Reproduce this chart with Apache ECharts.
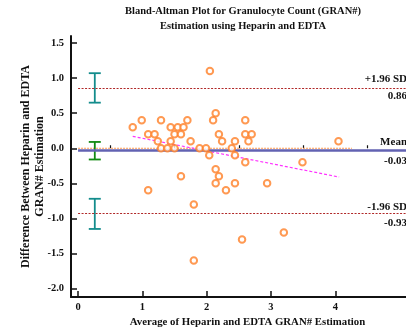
<!DOCTYPE html>
<html><head><meta charset="utf-8">
<script src="https://cdn.jsdelivr.net/npm/echarts@6/dist/echarts.min.js"></script>
<style>html,body{margin:0;padding:0;background:#fff}#c{width:406px;height:334px}</style>
</head><body><div id="c"></div>
<script>
// ---- data ----
const avgValues = [2.05,2.14,0.85,0.99,1.29,1.70,2.10,2.60,1.44,1.55,1.64,1.09,1.19,1.50,1.60,2.19,2.60,2.70,1.24,1.44,1.75,2.24,2.44,2.65,1.29,1.39,1.50,1.89,1.99,2.39,2.04,2.44,2.60,2.14,1.60,2.19,2.14,2.44,2.94,1.09,2.30,1.80,2.55,1.80,4.05,3.49,3.20];
const diffValues = [1.1,0.5,0.3,0.4,0.4,0.4,0.4,0.4,0.3,0.3,0.3,0.2,0.2,0.2,0.2,0.2,0.2,0.2,0.1,0.1,0.1,0.1,0.1,0.1,0,0,0,0,0,0,-0.1,-0.1,-0.2,-0.3,-0.4,-0.4,-0.5,-0.5,-0.5,-0.6,-0.6,-0.8,-1.3,-1.6,0.1,-0.2,-1.2];
const meanDiff = -0.03;
const upperLoA = 0.86;
const lowerLoA = -0.93;
const yTicks = [-2,-1.5,-1,-0.5,0,0.5,1,1.5];
const yTickLabels = ['-2.0','-1.5','-1.0','-0.5','0.0','0.5','1.0','1.5'];
const xTicks = [0,1,2,3,4];
const xMinorTicks = [0.5,1.5,2.5,3.5,4.5];
const regX = [0.85, 4.06];
const regY = [0.17, -0.41];
const zeroLineX = [0, 4.26];
const refLineX = [0, 5.1];
const ciX = [0.26, 0.26, 0.26];
const ciLow = [0.65, -0.16, -1.15];
const ciHigh = [1.07, 0.09, -0.72];
const titleLines = ['Bland-Altman Plot for Granulocyte Count (GRAN#)', 'Estimation using Heparin and EDTA'];
const xName = 'Average of Heparin and EDTA GRAN# Estimation';
const yName = 'Difference Between Heparin and EDTA\nGRAN# Estimation';

// ---- chart ----
const FONT = '"Liberation Serif", "Times New Roman", serif';
const chart = echarts.init(document.getElementById('c'), null, {renderer: 'canvas'});
const ciColors = ['#138c8c', '#118a11', '#138c8c'];

function refSeries(y, color, type, width, topText, bottomText, distTop, distBottom) {
  const lbl = (text, pos, d) => ({
    show: true, position: pos, formatter: text, distance: d,
    color: '#111', fontFamily: FONT, fontWeight: 'bold', fontSize: 11
  });
  return {
    type: 'line', data: [], symbol: 'none', silent: true, z: 2,
    markLine: {
      symbol: 'none', silent: true, animation: false,
      lineStyle: {color: color, width: width, type: type},
      data: [
        [{coord: [refLineX[0], y], label: lbl(topText, 'insideEndTop', distTop)}, {coord: [refLineX[1], y]}],
        [{coord: [refLineX[0], y], label: lbl(bottomText, 'insideEndBottom', distBottom),
          lineStyle: {color: color, width: 0.01, type: 'solid'}}, {coord: [refLineX[1], y]}]
      ]
    }
  };
}

const option = {
  animation: false,
  backgroundColor: '#fff',
  graphic: [{
    type: 'text', left: 243 - 130, top: 4,
    style: {
      text: titleLines.join('\n'), fill: '#111', font: 'bold 10.5px ' + FONT,
      textAlign: 'center', lineHeight: 15, width: 260
    }
  }],
  grid: {left: 71, top: 36, width: 344, height: 261, containLabel: false},
  xAxis: [{
    type: 'value', min: -0.11, max: 5.1, position: 'bottom',
    name: xName, nameLocation: 'middle', nameGap: 20, nameMoveOverlap: false,
    nameTextStyle: {color: '#111', fontFamily: FONT, fontWeight: 'bold', fontSize: 10.8, padding: [0, 0, 0, 18]},
    axisLine: {show: true, onZero: false, lineStyle: {color: '#111', width: 2}},
    axisTick: {show: true, inside: true, length: 6, lineStyle: {color: '#111', width: 1.5}, customValues: xTicks},
    axisLabel: {show: true, margin: 5, color: '#111', fontFamily: FONT, fontWeight: 'bold', fontSize: 10.5, customValues: xTicks},
    splitLine: {show: false}
  }, {
    type: 'value', min: -0.11, max: 5.1, position: 'bottom',
    axisLine: {show: false},
    axisTick: {show: true, inside: true, length: 3, lineStyle: {color: '#111', width: 1.2}, customValues: xMinorTicks},
    axisLabel: {show: false},
    splitLine: {show: false}
  }],
  yAxis: {
    type: 'value', min: -2.12, max: 1.6, position: 'left',
    name: yName, nameLocation: 'middle', nameRotate: 90, nameGap: 24, nameMoveOverlap: false,
    nameTextStyle: {color: '#111', fontFamily: FONT, fontWeight: 'bold', fontSize: 12, lineHeight: 14},
    axisLine: {show: true, onZero: false, lineStyle: {color: '#111', width: 2}},
    axisTick: {show: true, inside: true, length: 6, lineStyle: {color: '#111', width: 1.5}, customValues: yTicks},
    axisLabel: {show: true, margin: 7, color: '#111', fontFamily: FONT, fontWeight: 'bold', fontSize: 10.5,
      customValues: yTicks,
      formatter: v => { const i = yTicks.findIndex(t => Math.abs(t - v) < 1e-6); return i >= 0 ? yTickLabels[i] : ''; }},
    splitLine: {show: false}
  },
  series: [
    refSeries(upperLoA, '#b02828', [2, 1.5], 1.2, '+1.96 SD', upperLoA.toFixed(2), [-1, 3], [-1, 3]),
    refSeries(lowerLoA, '#b02828', [2, 1.5], 1.2, '-1.96 SD', lowerLoA.toFixed(2), [-1, 1], [-1, 4]),
    refSeries(meanDiff, '#6262b2', 'solid', 2.5, 'Mean', meanDiff.toFixed(2), [-1, 3], [-1, 5]),
    {
      type: 'line', data: zeroLineX.map(x => [x, 0]), symbol: 'none', silent: true, z: 3,
      lineStyle: {color: '#ff9a50', width: 1, type: [2, 1]}
    },
    {
      type: 'line', data: regX.map((x, i) => [x, regY[i]]), symbol: 'none', silent: true, z: 3,
      lineStyle: {color: '#ff33ff', width: 1.2, type: [3, 2]}
    },
    {
      type: 'custom', silent: true, z: 4,
      data: ciX.map((x, i) => [x, ciLow[i], ciHigh[i]]),
      renderItem: function (params, api) {
        const x = api.value(0);
        const pLo = api.coord([x, api.value(1)]);
        const pHi = api.coord([x, api.value(2)]);
        const c = ciColors[params.dataIndex];
        const w = 6;
        const st = {stroke: c, lineWidth: 1.8};
        return {type: 'group', children: [
          {type: 'line', shape: {x1: pLo[0], y1: pLo[1], x2: pHi[0], y2: pHi[1]}, style: st},
          {type: 'line', shape: {x1: pLo[0] - w, y1: pLo[1], x2: pLo[0] + w, y2: pLo[1]}, style: st},
          {type: 'line', shape: {x1: pHi[0] - w, y1: pHi[1], x2: pHi[0] + w, y2: pHi[1]}, style: st}
        ]};
      }
    },
    {
      type: 'scatter', z: 5, symbol: 'emptyCircle', symbolSize: 6.5,
      data: avgValues.map((x, i) => [x, diffValues[i]]),
      itemStyle: {color: '#ff7f27', borderWidth: 1.2}
    }
  ]
};
chart.setOption(option);
</script>
</body></html>
